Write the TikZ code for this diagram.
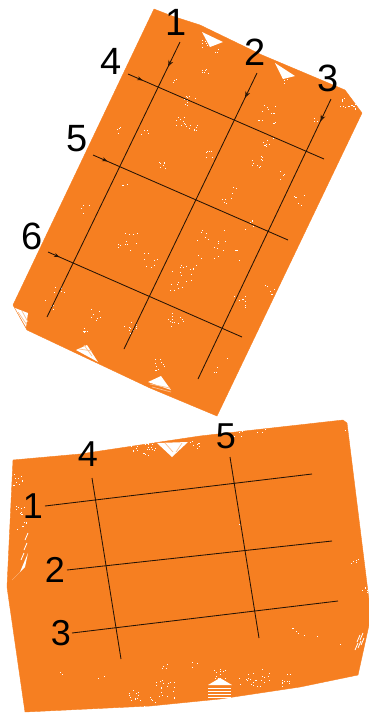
\documentclass[tikz,border=0pt]{standalone}
\usepackage{fontspec}
\setmainfont{Liberation Sans}
\usetikzlibrary{arrows.meta,decorations.markings}
\definecolor{plate}{HTML}{F67F21}
\definecolor{pale}{HTML}{FBC08F}
\newcommand{\speck}[4]{%
  \foreach \k in {1,...,#3}{%
    \pgfmathsetmacro{\dx}{rand*#4}\pgfmathsetmacro{\dy}{rand*#4}%
    \fill[white] ({#1+\dx-0.45},{#2+\dy-0.45}) rectangle ++(0.9,0.9);}}
\tikzset{
  platearea/.style={fill=plate,draw=plate,line width=0.4pt},
  gridline/.style={draw=black!85!plate,line width=0.85pt},
  marked/.style={gridline,postaction={decorate},decoration={markings,mark=at position #1 with {\arrow[black!85!plate,line width=0.7pt]{Stealth[open,length=6.5pt,width=5pt]}}}},
  markedsolid/.style={gridline,postaction={decorate},decoration={markings,mark=at position #1 with {\arrow[black!85!plate]{Stealth[length=5.5pt,width=4pt]}}}},
  biglabel/.style={font=\fontsize{38}{38}\selectfont,text=black,inner sep=0pt},
  smalllabel/.style={font=\fontsize{36}{36}\selectfont,text=black,inner sep=0pt},
  hole/.style={fill=white,draw=none},
  thread/.style={draw=pale,line width=0.7pt}
}
\begin{document}
\begin{tikzpicture}[x=1pt,y=-1pt]
\useasboundingbox (0,0) rectangle (369,713);
\pgfmathsetseed{4217}
% upper plate
\path[platearea] (154,9) -- (172,16) -- (200,25) -- (262,55) -- (345,90) -- (362,113) -- (217,416) -- (150,388) -- (27,330) -- (13,305) -- cycle;
\fill[hole] (202,32) -- (223,42) -- (210,47) -- cycle;
\fill[hole] (275,63) -- (295,76) -- (283,79) -- cycle;
\fill[hole] (76,350) -- (87,345) -- (98,362) -- cycle;
\fill[hole] (148,382) -- (161,376) -- (171,390) -- cycle;
\fill[hole] (15,308) -- (28,313) -- (26,327) -- cycle;
\draw[thread] (18,312) -- (27,325) (22,311) -- (28,322) (79,349) -- (92,351) (84,345) -- (92,356) (150,384) -- (170,388) (152,387) -- (171,392);
\foreach \a/\b/\c/\d in {345/103/8/5,352/108/8/4,205/44/6/5,216/50/3/3,284/81/4/5,205/72/6/3,190/100/10/6,182/122/10/6,193/128/8/5,162/165/8/4,210/155/6/5,258/162/10/6,268/115/14/10,268/142/8/5,230/195/8/8,210/245/16/16,190/265/10/10,130/245/12/12,150/260/8/8,95/315/8/6,85/330/6/3,175/320/12/8,130/330/10/8,160/365/10/6,180/280/12/12,240/300/8/8,300/200/6/6,250/225/5/5,120/130/4/5,175/80/3/3,85/210/4/5,60/290/6/6,50/305/4/5,270/290/6/6,220/365/4/8,240/255/4/6,145/135/4/5,280/175/4/5,315/120/3/3,125/185/3/3}
  {\speck{\a}{\b}{\c}{\d}}
% lower plate
\path[platearea] (13,460) -- (80,454) -- (200,436) -- (343,420) -- (347,423) -- (369,600) -- (369,625) -- (358,675) -- (300,687) -- (220,699) -- (150,706) -- (25,712) -- (7,587) -- cycle;
\fill[hole] (157,443) -- (188,442) -- (172,457) -- cycle;
\draw[thread] (165,443) -- (173,452) (182,443) -- (176,452);
\fill[hole] (208,685) -- (232,685) -- (220,678) -- cycle;
\fill[hole] (12,580) -- (25,567) -- (28,553) -- (20,572) -- cycle;
\foreach \yy in {688,691,694,697} {\draw[white,line width=0.8pt] (208,\yy) -- (231,\yy);}
\foreach \xx/\yy in {355/650,358/648,361/645,357/642,360/640,21/560,24/550,25/540}
  {\draw[white,line width=0.8pt] (\xx,\yy) -- ++(3,-7);}
\foreach \a/\b/\c/\d in {150/448/18/7,135/449/6/4,195/445/6/5,240/431/6/6,262/430/5/5,200/445/3/3,18/480/10/6,20/510/10/5,22/525/6/5,220/672/12/7,245/680/8/6,262/678/16/9,285/680/10/6,165/690/20/10,135/695/12/6,150/700/6/6,165/667/4/3,195/665/3/4,355/560/5/4,366/590/5/4,365/520/2/3,295/630/4/4,345/430/1/1,240/520/1/8,100/680/2/5,60/675/2/3,310/640/2/8,340/645/1/1}
  {\speck{\a}{\b}{\c}{\d}}
% upper plate lines
\coordinate (u1a) at (180,42);  \coordinate (u1b) at (47,317);
\coordinate (u2a) at (257,73);  \coordinate (u2b) at (124,349);
\coordinate (u3a) at (331,99);  \coordinate (u3b) at (198,379);
\coordinate (u4a) at (128,74);  \coordinate (u4b) at (324,159);
\coordinate (u5a) at (93,155);  \coordinate (u5b) at (288,240);
\coordinate (u6a) at (48,252);  \coordinate (u6b) at (242,337);
\draw[marked=0.09] (u1a) -- (u1b);
\draw[marked=0.09] (u2a) -- (u2b);
\draw[marked=0.08] (u3a) -- (u3b);
\draw[markedsolid=0.075] (u4a) -- (u4b);
\draw[markedsolid=0.075] (u5a) -- (u5b);
\draw[markedsolid=0.06] (u6a) -- (u6b);
% lower plate lines
\coordinate (l1a) at (45,506);  \coordinate (l1b) at (312,474);
\coordinate (l2a) at (67,570);  \coordinate (l2b) at (332,541);
\coordinate (l3a) at (72,633);  \coordinate (l3b) at (338,601);
\coordinate (l4a) at (92,478);  \coordinate (l4b) at (121,659);
\coordinate (l5a) at (230,457); \coordinate (l5b) at (259,638);
\foreach \p/\q in {l1a/l1b,l2a/l2b,l3a/l3b,l4a/l4b,l5a/l5b} {\draw[gridline] (\p) -- (\q);}
% labels
\node[biglabel] (t1) at (176,22) {1};
\node[biglabel] (t2) at (255,52) {2};
\node[biglabel] (t3) at (328,78) {3};
\node[biglabel] (t4) at (111,61) {4};
\node[biglabel] (t5) at (77,139) {5};
\node[biglabel] (t6) at (32,236) {6};
\node[smalllabel] (b1) at (33,506) {1};
\node[smalllabel] (b2) at (55,570) {2};
\node[smalllabel] (b3) at (61,633) {3};
\node[smalllabel] (b4) at (88,454) {4};
\node[smalllabel] (b5) at (226,436) {5};
\end{tikzpicture}
\end{document}
